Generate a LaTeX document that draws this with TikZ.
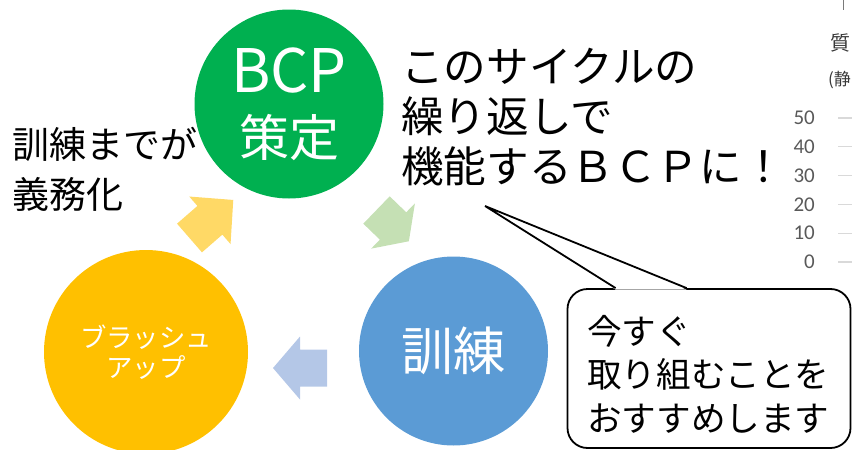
\documentclass[tikz,border=0pt]{standalone}
\usepackage{fontspec}
\setmainfont{Noto Sans CJK JP}
\newfontfamily\chartfont{Carlito}
\usetikzlibrary{calc}

\definecolor{bcpgreen}{HTML}{00B050}
\definecolor{trainblue}{HTML}{5B9BD5}
\definecolor{brushorange}{HTML}{FFC000}
\definecolor{arrowyellow}{HTML}{FFD966}
\definecolor{arrowgreen}{HTML}{C5E0B4}
\definecolor{arrowblue}{HTML}{B4C7E7}
\definecolor{axisgray}{HTML}{595959}
\definecolor{gridgray}{HTML}{D9D9D9}

\begin{document}
\begin{tikzpicture}[x=1pt,y=-1pt,
    stage/.style={circle, inner sep=0pt, text=white, align=center},
    words/.style={inner sep=0pt, align=left, anchor=west},
    callout/.style={draw, line width=1.8pt, rounded corners=20pt, fill=white}]
    \useasboundingbox (0,0) rectangle (852,450);
    \clip (0,0) rectangle (852,450);

    % stages of the cycle
    \node[stage, fill=bcpgreen, minimum size=189pt, font=\fontsize{50}{64}\selectfont] (bcp) at (289,104)
        {{\fontsize{60}{64}\selectfont BCP}\\策定};
    \node[stage, fill=trainblue, minimum size=189pt, font=\fontsize{52}{60}\selectfont] (train) at (453.5,351) {訓練};
    \node[stage, fill=brushorange, minimum size=204pt, font=\fontsize{26.4}{30}\selectfont] (brush) at (146,352)
        {ブラッシュ\\アップ};

    % block arrows between the stages
    \fill[arrowyellow, shift={(189.5,238)}, rotate=41]
        (0,-19) -- (27,-19) -- (27,-31.5) -- (58,0) -- (27,31.5) -- (27,19) -- (0,19) -- cycle;
    \fill[arrowgreen, shift={(376.5,210)}, rotate=-44]
        (0,-19) -- (23,-19) -- (23,-31.5) -- (45,0) -- (23,31.5) -- (23,19) -- (0,19) -- cycle;
    \fill[arrowblue, shift={(327,368)}, rotate=180]
        (0,-18.5) -- (27,-18.5) -- (27,-31.5) -- (54,0) -- (27,31.5) -- (27,18.5) -- (0,18.5) -- cycle;

    % texts
    \node[words, font=\fontsize{37}{50}\selectfont] (duty) at (12,169) {訓練までが\\義務化};
    \node[words, font=\fontsize{42.6}{50}\selectfont] (cycle) at (401,117)
        {このサイクルの\\繰り返しで\\機能するＢＣＰに！};

    % callout
    \node[callout, minimum width=283pt, minimum height=159pt] (note) at (709,368.5) {};
    \coordinate (notetip) at (485,206);
    \fill[white] ($(note.north west)+(49,1.5)$) -- (notetip) -- ($(note.north west)+(120,1.5)$) -- cycle;
    \draw[line width=1.8pt] ($(note.north west)+(49,0)$) -- (notetip) -- ($(note.north west)+(120,0)$);
    \node[words, font=\fontsize{34.6}{43.5}\selectfont] (notetext) at (587,374)
        {今すぐ\\取り組むことを\\おすすめします};

    % piece of a chart at the right edge
    \draw[axisgray!80, line width=1pt] (843,0) -- (843,10);
    \node[inner sep=0pt, text=axisgray!120, font=\fontsize{20}{20}\selectfont] (quality) at (840,43) {質};
    \node[inner sep=0pt, anchor=west, text=axisgray!120, font=\fontsize{17}{17}\selectfont] (unit) at (828,80) {(静};
    \foreach \v [count=\i from 0] in {50,40,30,20,10,0} {
        \node[inner sep=0pt, anchor=east, text=axisgray, font=\chartfont\fontsize{21}{21}\selectfont]
            (tick\v) at (815,118+28.8*\i) {\v};
        \draw[gridgray, line width=1.2pt] (838,118+28.8*\i) -- (852,118+28.8*\i);
    }
\end{tikzpicture}
\end{document}
